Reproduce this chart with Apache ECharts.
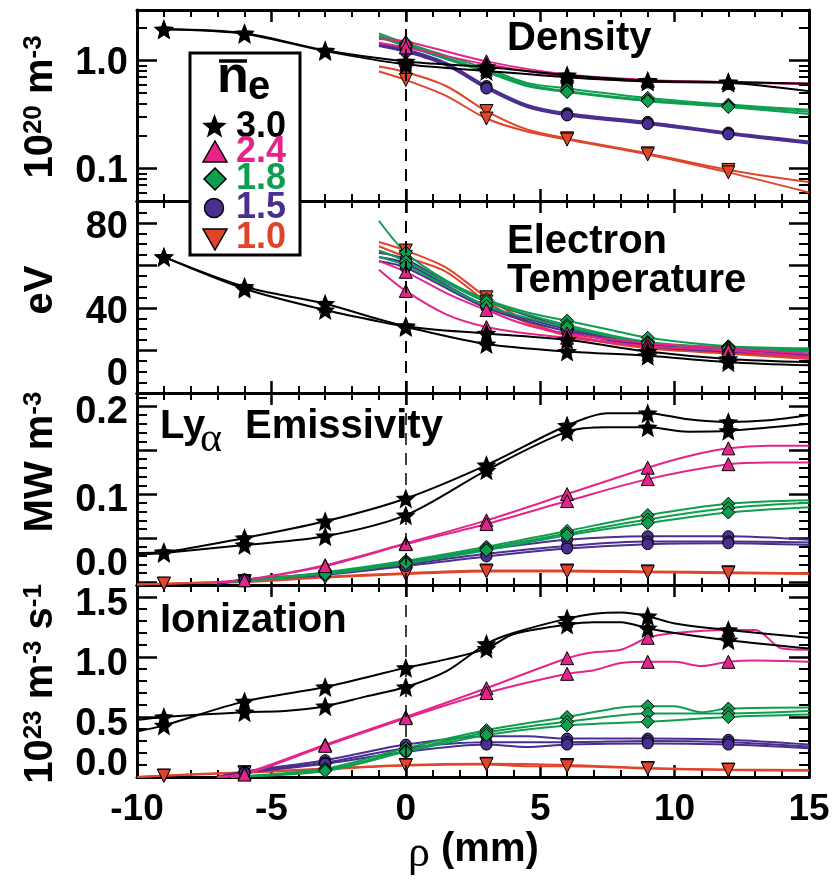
<!DOCTYPE html>
<html>
<head>
<meta charset="utf-8">
<script src="https://cdn.jsdelivr.net/npm/echarts@6/dist/echarts.min.js"></script>
<style>
  html, body { margin: 0; padding: 0; background: #fff; }
  #chart { width: 838px; height: 882px; }
</style>
</head>
<body>
<div id="chart"></div>
<script>
const FONT = "'Liberation Sans', Arial, Helvetica, sans-serif";
const SERIF = "'Liberation Serif', 'DejaVu Serif', serif";

// x positions (mm) that carry a marker
const markerX = [-9, -6, -3, 0, 3, 6, 9, 12];
// line-averaged density groups, drawn bottom to top: 1.0, 1.5, 1.8, 2.4, 3.0
const groupNames = ['1.0', '1.5', '1.8', '2.4', '3.0'];
const groupColors = ['#e0452b', '#4a2e90', '#0f9e4f', '#e5248b', '#000000'];

// ---- Density (10^20 m^-3) ----
const denBlack = [
  [[-9,1.94],[-6,1.79],[-3,1.24],[0,0.98],[3,0.87],[6,0.73],[9,0.65],[12,0.63],[15,0.61]],
  [[-9,1.94],[-6,1.76],[-3,1.22],[0,0.92],[3,0.80],[6,0.70],[9,0.64],[12,0.62],[15,0.52]]
];
const denPink = [
  [[-1,1.58],[0,1.50],[3,0.98],[6,0.74],[9,0.66],[12,0.63],[15,0.61]],
  [[-1,1.45],[0,1.32],[3,0.92],[6,0.71],[9,0.64],[12,0.62],[15,0.61]]
];
const denGreen = [
  [[-1,1.78],[0,1.45],[3,0.84],[4.5,0.62],[6,0.55],[9,0.45],[12,0.39],[15,0.35]],
  [[-1,1.70],[0,1.40],[3,0.80],[4.5,0.60],[6,0.52],[9,0.43],[12,0.38],[15,0.335]],
  [[-1,1.64],[0,1.36],[3,0.78],[4.5,0.58],[6,0.51],[9,0.42],[12,0.37],[15,0.32]]
];
const denPurple = [
  [[-1,1.45],[0,1.27],[1.5,0.95],[3,0.58],[4.5,0.39],[6,0.325],[9,0.27],[12,0.215],[15,0.178]],
  [[-1,1.40],[0,1.23],[1.5,0.92],[3,0.56],[4.5,0.38],[6,0.315],[9,0.262],[12,0.21],[15,0.172]],
  [[-1,1.36],[0,1.20],[1.5,0.90],[3,0.55],[4.5,0.37],[6,0.31],[9,0.258],[12,0.207],[15,0.17]]
];
const denRed = [
  [[-1,0.88],[0,0.78],[1.5,0.58],[3,0.34],[4.5,0.23],[6,0.19],[9,0.138],[12,0.097],[15,0.075]],
  [[-1,0.79],[0,0.66],[1.5,0.47],[3,0.29],[4.5,0.22],[6,0.185],[9,0.135],[12,0.092],[15,0.06]]
];

// ---- Electron temperature (eV) ----
const teBlack = [
  [[-9,64],[-6,50],[-3,42],[0,31.5],[3,28],[6,25],[9,19.5],[12,16],[15,14.5]],
  [[-9,64],[-6,49],[-3,39],[0,31],[3,23],[6,19.5],[9,17.5],[12,14.5],[15,13]]
];
const tePink = [
  [[-1,62],[0,57],[1.5,47],[3,39],[4.5,32],[6,28],[9,23.5],[12,21],[15,18.5]],
  [[-1,58],[0,48],[1.5,37],[3,31],[4.5,28],[6,26],[9,22],[12,20],[15,17]]
];
const teGreen = [
  [[-1,81],[0,66],[1.5,53],[3,44],[4.5,38],[6,34],[7.5,30],[9,26],[12,22],[15,21]],
  [[-1,67],[0,62],[1.5,52],[3,43],[6,32],[9,24],[12,21.5],[15,20]],
  [[-1,64],[0,60],[3,41],[6,31],[9,23.5],[12,21],[15,19.5]]
];
const tePurple = [
  [[-1,66],[0,63],[1.5,52],[3,43],[6,31],[9,23],[12,20.5],[15,18.5]],
  [[-1,64],[0,61],[3,41],[6,30],[9,22.5],[12,20],[15,18]],
  [[-1,62],[0,59],[3,40],[6,29],[9,22],[12,19.5],[15,17.5]]
];
const teRed = [
  [[-1,71],[0,67],[1.5,59],[3,45],[4.5,34],[6,27.5],[9,21.5],[12,19],[15,16.5]],
  [[-1,69],[0,64],[1.5,57],[3,43],[4.5,33],[6,27],[9,21],[12,18.5],[15,16]]
];

// ---- Ly-alpha emissivity (MW m^-3) ----
const lyBlack = [
  [[-10,0.033],[-9,0.034],[-6,0.050],[-3,0.069],[0,0.095],[3,0.133],[6,0.178],[7.5,0.192],[9,0.192],[10.5,0.185],[12,0.182],[13.5,0.184],[15,0.19]],
  [[-10,0.031],[-9,0.033],[-6,0.042],[-3,0.052],[0,0.076],[3,0.127],[6,0.171],[7.5,0.176],[9,0.176],[10.5,0.171],[12,0.172],[15,0.18]]
];
const lyPink = [
  [[-7,0.0],[-6,0.002],[-3,0.019],[0,0.044],[3,0.070],[6,0.100],[9,0.130],[10.5,0.143],[12,0.152],[13.5,0.155],[15,0.155]],
  [[-7,0.0],[-6,0.002],[-3,0.018],[0,0.043],[3,0.066],[6,0.092],[9,0.117],[12,0.134],[13.5,0.136],[15,0.136]]
];
const lyGreen = [
  [[-6.5,0.0],[-3,0.011],[0,0.024],[3,0.040],[6,0.058],[9,0.076],[12,0.089],[15,0.093]],
  [[-6.5,0.0],[-3,0.010],[0,0.022],[3,0.038],[6,0.055],[9,0.071],[12,0.084],[15,0.09]],
  [[-6.5,0.0],[-3,0.009],[0,0.021],[3,0.036],[6,0.053],[9,0.067],[12,0.079],[15,0.085]]
];
const lyPurple = [
  [[-7,-0.002],[-6,0.003],[-3,0.010],[0,0.023],[3,0.037],[6,0.048],[9,0.052],[12,0.052],[15,0.048]],
  [[-7,-0.002],[-6,0.002],[-3,0.009],[0,0.020],[3,0.032],[6,0.041],[9,0.046],[12,0.046],[15,0.045]],
  [[-7,-0.002],[-6,0.002],[-3,0.008],[0,0.018],[3,0.029],[6,0.038],[9,0.043],[12,0.044],[15,0.042]]
];
const lyRed = [
  [[-10,-0.003],[-9,-0.002],[-6,0.001],[-3,0.006],[0,0.010],[3,0.013],[6,0.013],[9,0.012],[12,0.011],[15,0.010]],
  [[-10,-0.003],[-9,-0.002],[-6,0.0],[-3,0.005],[0,0.009],[3,0.012],[6,0.012],[9,0.011],[12,0.010],[15,0.009]]
];

// ---- Ionization (10^23 m^-3 s^-1) ----
const ioBlack = [
  [[-10,0.378],[-9,0.43],[-6,0.63],[-3,0.75],[0,0.91],[1.5,0.98],[3,1.07],[4,1.19],[6,1.27],[7,1.29],[8,1.29],[9,1.24],[10,1.20],[12,1.14],[15,1.07]],
  [[-10,0.475],[-9,0.50],[-6,0.54],[-4.5,0.55],[-3,0.59],[-1.5,0.67],[0,0.75],[1.5,0.88],[3,1.11],[4,1.20],[6,1.32],[7,1.36],[8,1.37],[9,1.34],[10,1.28],[12,1.225],[15,1.16]]
];
const ioPink = [
  [[-7,0.0],[-6,0.03],[-3,0.27],[0,0.50],[3,0.74],[6,0.99],[7,1.04],[8,1.06],[9,1.16],[10,1.20],[12,1.225],[13,1.225],[14,1.07],[15,1.06]],
  [[-7,0.0],[-6,0.02],[-3,0.26],[0,0.49],[3,0.70],[6,0.86],[7,0.89],[8,0.95],[9,0.96],[10,0.96],[11,0.925],[12,0.96],[13,0.97],[15,0.96]]
];
const ioGreen = [
  [[-6.5,0.0],[-3,0.07],[0,0.24],[3,0.39],[6,0.50],[8,0.58],[9,0.59],[10,0.59],[11,0.54],[12,0.57],[15,0.58]],
  [[-6.5,0.0],[-3,0.06],[0,0.22],[3,0.37],[6,0.46],[9,0.53],[12,0.53],[15,0.55]],
  [[-6.5,0.0],[-3,0.05],[0,0.21],[3,0.35],[6,0.43],[9,0.46],[12,0.50],[15,0.52]]
];
const ioPurple = [
  [[-7,0.0],[-6,0.045],[-3,0.14],[0,0.27],[3,0.34],[4.5,0.34],[6,0.32],[9,0.32],[12,0.31],[15,0.27]],
  [[-7,0.0],[-6,0.04],[-3,0.12],[0,0.24],[3,0.29],[6,0.29],[9,0.30],[12,0.29],[15,0.255]],
  [[-7,0.0],[-6,0.035],[-3,0.11],[0,0.21],[3,0.27],[4.5,0.25],[6,0.27],[9,0.28],[12,0.27],[15,0.24]]
];
const ioRed = [
  [[-10,0.0],[-9,0.012],[-6,0.04],[-3,0.07],[0,0.10],[3,0.11],[6,0.10],[9,0.075],[12,0.062],[15,0.058]],
  [[-10,0.0],[-9,0.01],[-6,0.035],[-3,0.065],[0,0.095],[3,0.105],[4.5,0.09],[6,0.09],[9,0.07],[12,0.058],[15,0.052]]
];

// tick values
const denMajorTicks = [0.1, 1];
const denMinorTicks = [0.06, 0.07, 0.08, 0.09, 0.2, 0.3, 0.4, 0.5, 0.6, 0.7, 0.8, 0.9, 2];
const denTickLabels = [0.1, 1];
const teMajorTicks = [0, 20, 40, 60, 80];
const teMinorTicks = [5, 10, 15, 25, 30, 35, 45, 50, 55, 65, 70, 75, 85, 90];
const teTickLabels = [0, 40, 80];
const lyMajorTicks = [0, 0.05, 0.1, 0.15, 0.2];
const lyMinorTicks = [0.01, 0.02, 0.03, 0.04, 0.06, 0.07, 0.08, 0.09, 0.11, 0.12, 0.13, 0.14, 0.16, 0.17, 0.18, 0.19, 0.21];
const lyTickLabels = [0, 0.1, 0.2];
const ioMajorTicks = [0, 0.5, 1.0, 1.5];
const ioMinorTicks = [0.1, 0.2, 0.3, 0.4, 0.6, 0.7, 0.8, 0.9, 1.1, 1.2, 1.3, 1.4];
const ioTickLabels = [0, 0.5, 1.0, 1.5];

const panels = [
  { curves: [denRed, denPurple, denGreen, denPink, denBlack], type: 'log', min: 0.05, max: 2.93,
    major: denMajorTicks, minor: denMinorTicks, labels: denTickLabels, fmt: v => v.toFixed(1),
    nPad: 6, bPad: 0, top: 10, height: 191, dash: 2 },
  { curves: [teRed, tePurple, teGreen, tePink, teBlack], type: 'value', min: 0, max: 90.3,
    major: teMajorTicks, minor: teMinorTicks, labels: teTickLabels, fmt: v => String(Math.round(v)),
    nPad: 9, bPad: 36, top: 201, height: 192, dash: 2 },
  { curves: [lyRed, lyPurple, lyGreen, lyPink, lyBlack], type: 'value', min: -0.0035, max: 0.215,
    major: lyMajorTicks, minor: lyMinorTicks, labels: lyTickLabels, fmt: v => v.toFixed(1),
    nPad: 12, bPad: 34, top: 393, height: 192, dash: 1.5 },
  { curves: [ioRed, ioPurple, ioGreen, ioPink, ioBlack], type: 'value', min: 0, max: 1.6,
    major: ioMajorTicks, minor: ioMinorTicks, labels: ioTickLabels, fmt: v => v.toFixed(1),
    nPad: 16, bPad: 24, top: 585, height: 192, dash: 1.5 }
];

const STAR = 'path://M0,-10L2.6,-3.6L9.51,-3.09L4.2,1.37L5.88,8.09L0,4.4L-5.88,8.09L-4.2,1.37L-9.51,-3.09L-2.6,-3.6Z';
const groupSymbol = ['triangle', 'circle', 'diamond', 'triangle', STAR];
const groupSize = [13, 11, 13, 13, 20];
const groupRotate = [180, 0, 0, 0, 0];

const frame = { color: '#000', width: 3 };
const grids = [], xAxes = [], yAxes = [], series = [];

panels.forEach((p, i) => {
  grids.push({ left: 137, right: 29, top: p.top, height: p.height, outerBoundsMode: 'none' });

  ['bottom', 'top'].forEach(pos => {
    xAxes.push({
      type: 'value', gridIndex: i, position: pos, min: -10, max: 15, interval: 5,
      axisLine: { show: true, onZero: false, lineStyle: frame },
      axisTick: { show: true, inside: true, length: 12, lineStyle: { color: '#000', width: 2.5 } },
      minorTick: { show: true, splitNumber: 5, length: 7, lineStyle: { color: '#000', width: 2 } },
      splitLine: { show: false }, minorSplitLine: { show: false },
      axisLabel: {
        show: i === 3 && pos === 'bottom', margin: 14, color: '#000',
        fontFamily: FONT, fontWeight: 'bold', fontSize: 37
      }
    });
  });

  const isBottom = v => p.type !== 'log' && Math.abs(v) < 1e-9;
  ['left', 'right'].forEach(pos => {
    const base = { type: p.type, gridIndex: i, position: pos, min: p.min, max: p.max,
      splitLine: { show: false }, minorTick: { show: false } };
    if (p.type === 'log') base.logBase = 10;
    yAxes.push(Object.assign({}, base, {
      axisLine: { show: true, onZero: false, lineStyle: frame },
      axisTick: { show: true, inside: true, length: 20, customValues: p.major,
        lineStyle: { color: '#000', width: 2.5 } },
      axisLabel: {
        show: pos === 'left', customValues: p.labels, margin: 9,
        formatter: v => (isBottom(v) ? '{b|' : '{n|') + p.fmt(v) + '}',
        rich: {
          n: { fontFamily: FONT, fontWeight: 'bold', fontSize: 38, color: '#000', padding: [p.nPad, 0, 0, 0] },
          b: { fontFamily: FONT, fontWeight: 'bold', fontSize: 38, color: '#000', padding: [0, 0, p.bPad, 0] }
        }
      }
    }));
    yAxes.push(Object.assign({}, base, {
      axisLine: { show: false, onZero: false },
      axisTick: { show: true, inside: true, length: 10, customValues: p.minor,
        lineStyle: { color: '#000', width: 2 } },
      axisLabel: { show: false }
    }));
  });

  // curves
  p.curves.forEach((group, g) => {
    group.forEach((c, k) => {
      const s = {
        type: 'line', xAxisIndex: 2 * i, yAxisIndex: 4 * i, data: c, smooth: 0.3,
        symbol: 'none', silent: true, z: 2,
        lineStyle: { color: groupColors[g], width: 2 }
      };
      if (g === 0 && k === 0) {
        s.markLine = {
          silent: true, symbol: ['none', 'none'], label: { show: false },
          lineStyle: { color: '#000', width: p.dash, type: [12, 8] },
          data: [{ xAxis: 0 }]
        };
      }
      series.push(s);
    });
  });
  // markers
  p.curves.forEach((group, g) => {
    const pts = [];
    group.forEach(c => c.forEach(pt => { if (markerX.includes(pt[0])) pts.push(pt); }));
    series.push({
      type: 'scatter', xAxisIndex: 2 * i, yAxisIndex: 4 * i, data: pts, silent: true, z: 3,
      symbol: groupSymbol[g], symbolSize: groupSize[g], symbolRotate: groupRotate[g],
      itemStyle: { color: groupColors[g], opacity: 1, borderColor: '#000', borderWidth: g === 4 ? 0 : 1 }
    });
  });
});

// legend glyphs
function starPoints(cx, cy, R, r) {
  const pts = [];
  for (let k = 0; k < 10; k++) {
    const a = -Math.PI / 2 + k * Math.PI / 5;
    const rad = k % 2 === 0 ? R : r;
    pts.push([cx + rad * Math.cos(a), cy + rad * Math.sin(a)]);
  }
  return pts;
}
const legY = [127, 152, 179, 208, 238];
const legText = ['3.0', '2.4', '1.8', '1.5', '1.0'];
const legColor = ['#000000', '#e5248b', '#0f9e4f', '#4a2e90', '#e0452b'];
const txt = (x, y, text, font, extra) => Object.assign({
  type: 'text', x: x, y: y, z: 101,
  style: Object.assign({ text: text, font: font, fill: '#000', align: 'left', verticalAlign: 'middle' }, extra || {})
});
const B = s => 'bold ' + s + 'px ' + FONT;

const graphic = [
  { type: 'rect', z: 100, shape: { x: 190, y: 53, width: 110, height: 202 },
    style: { fill: '#fff', stroke: '#000', lineWidth: 3 } },
  txt(233, 78, 'n', B(52), { align: 'center' }),
  { type: 'line', z: 101, shape: { x1: 219, y1: 61, x2: 247, y2: 61 }, style: { stroke: '#000', lineWidth: 3.5 } },
  txt(259, 88, 'e', B(40), { align: 'center' }),
  { type: 'polygon', z: 101, shape: { points: starPoints(214.5, legY[0], 13, 5.5) }, style: { fill: '#000' } },
  { type: 'polygon', z: 101, shape: { points: [[215, 141], [227, 162], [203, 162]] },
    style: { fill: legColor[1], stroke: '#000', lineWidth: 1.5 } },
  { type: 'polygon', z: 101, shape: { points: [[215, 168], [226, 179], [215, 190], [204, 179]] },
    style: { fill: legColor[2], stroke: '#000', lineWidth: 1.5 } },
  { type: 'circle', z: 101, shape: { cx: 214, cy: 208, r: 9.5 },
    style: { fill: legColor[3], stroke: '#000', lineWidth: 1.5 } },
  { type: 'polygon', z: 101, shape: { points: [[203, 229], [227, 229], [215, 250]] },
    style: { fill: legColor[4], stroke: '#000', lineWidth: 1.5 } }
];
legText.forEach((t, k) => graphic.push(txt(236, legY[k], t, B(36), { fill: legColor[k] })));

// panel titles
graphic.push(txt(507, 39, 'Density', B(40)));
graphic.push(txt(507, 242, 'Electron', B(40)));
graphic.push(txt(507, 281, 'Temperature', B(40)));
graphic.push(txt(160, 427, 'Ly', B(40)));
graphic.push(txt(200, 440, 'α', '42px ' + SERIF));
graphic.push(txt(245, 427, 'Emissivity', B(40)));
graphic.push(txt(160, 621, 'Ionization', B(40)));

// axis titles
const supRich = {
  m: { fontFamily: FONT, fontWeight: 'bold', fontSize: 40, lineHeight: 40, verticalAlign: 'bottom', fill: '#000' },
  s: { fontFamily: FONT, fontWeight: 'bold', fontSize: 26, lineHeight: 26, verticalAlign: 'top', fill: '#000' }
};
const rot = (y, text) => ({
  type: 'text', x: 41, y: y, rotation: Math.PI / 2, z: 101,
  style: { text: text, rich: supRich, align: 'center', verticalAlign: 'middle' }
});
graphic.push(rot(107, '{m|10}{s|20}{m| m}{s|-3}'));
graphic.push(rot(290, '{m|eV}'));
graphic.push(rot(462, '{m|MW m}{s|-3}'));
graphic.push(rot(684, '{m|10}{s|23}{m| m}{s|-3}{m| s}{s|-1}'));

graphic.push(txt(419, 854, 'ρ', '44px ' + SERIF, { align: 'center' }));
graphic.push(txt(441, 850, '(mm)', B(40)));

const chart = echarts.init(document.getElementById('chart'), null, { renderer: 'canvas' });
chart.setOption({
  animation: false,
  backgroundColor: '#fff',
  grid: grids,
  xAxis: xAxes,
  yAxis: yAxes,
  series: series,
  graphic: graphic
});
</script>
</body>
</html>
